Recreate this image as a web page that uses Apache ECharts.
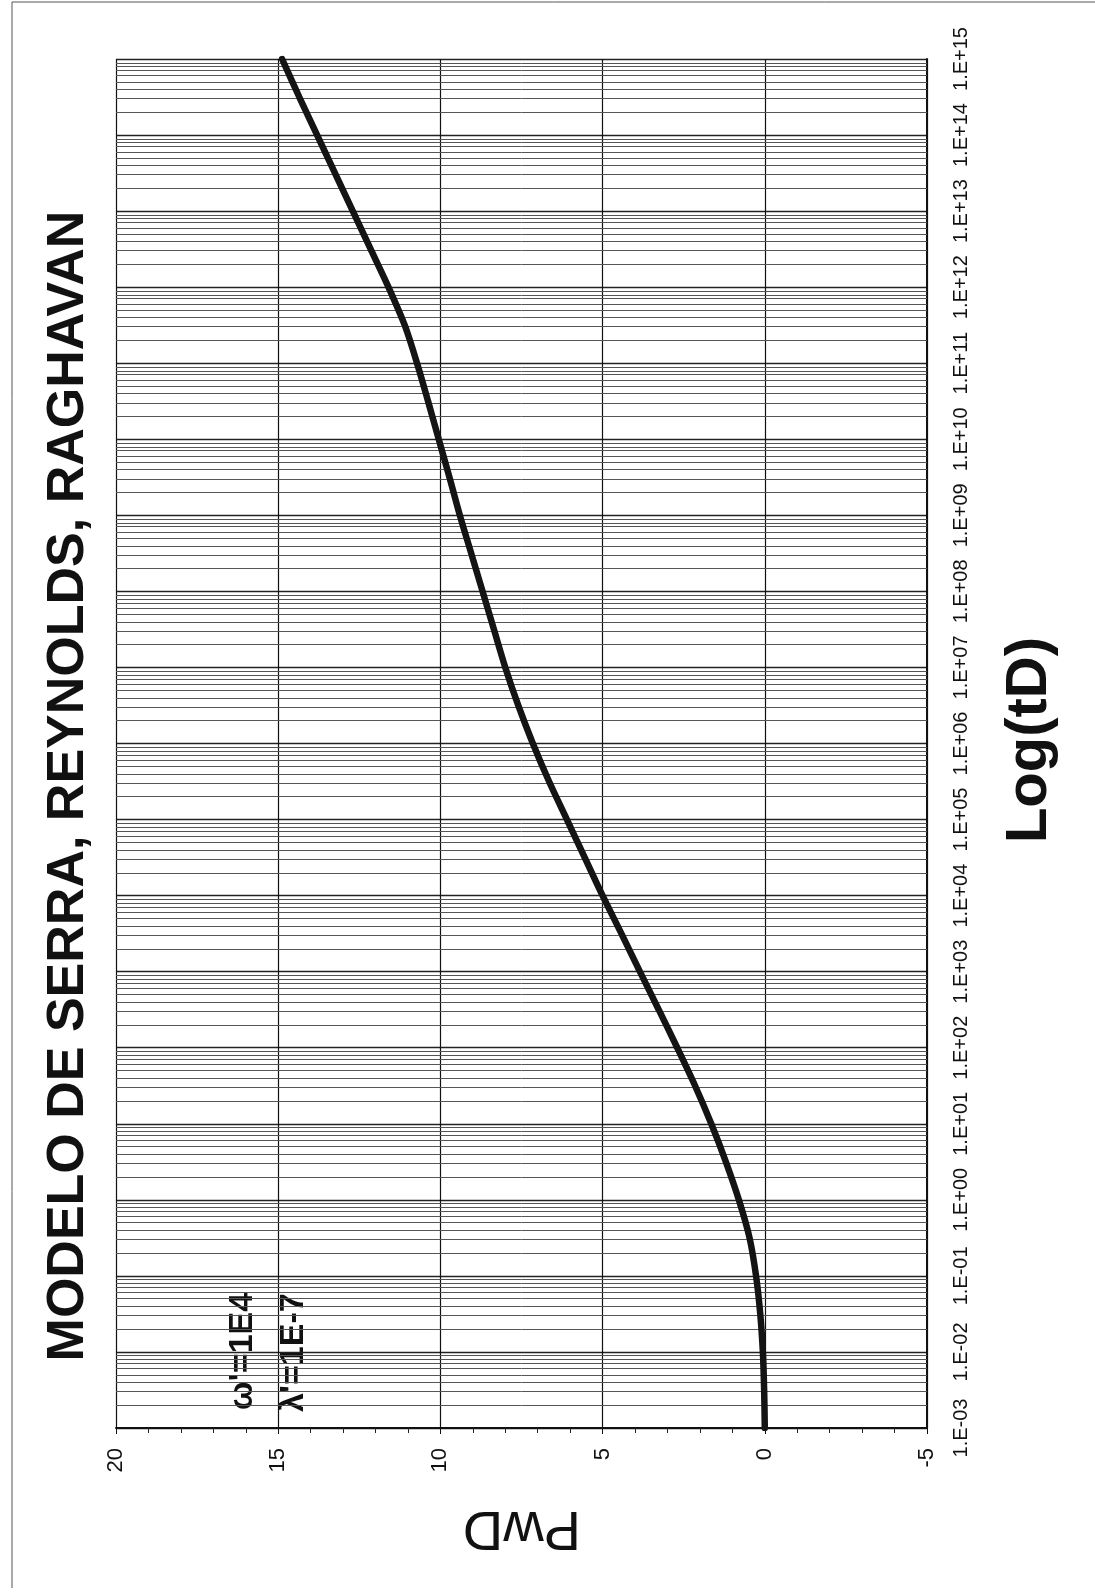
<!DOCTYPE html>
<html>
<head>
<meta charset="utf-8">
<script src="https://cdn.jsdelivr.net/npm/echarts@6/dist/echarts.min.js"></script>
<style>
  html, body { margin: 0; padding: 0; background: #fff; }
  #chart { width: 1095px; height: 1595px; }
</style>
</head>
<body>
<div id="chart"></div>
<script>
// Dimensionless pressure PwD against log10 of dimensionless time tD
const logTD = [-3, -2.5, -2, -1.5, -1, -0.5, 0, 0.5, 1, 1.5, 2, 2.5, 3, 3.5, 4, 4.5, 5, 5.5, 6,
               6.5, 7, 7.5, 8, 8.5, 9, 9.5, 10, 10.5, 11, 11.5, 12, 12.5, 13, 13.5, 14, 14.5, 15];
const pwd   = [0.0, 0.02, 0.06, 0.14, 0.27, 0.47, 0.8, 1.2, 1.65, 2.15, 2.7, 3.27, 3.85, 4.42, 5.0, 5.55, 6.1, 6.65, 7.15,
               7.6, 8.0, 8.35, 8.7, 9.05, 9.4, 9.72, 10.05, 10.38, 10.72, 11.1, 11.6, 12.15, 12.7, 13.25, 13.8, 14.35, 14.88];

// Log(tD) axis: decades 1E-03 .. 1E+15 with the 2..9 sub-divisions
const decadeMin = -3;
const decadeMax = 15;
const minorMantissas = [2, 3, 4, 5, 6, 7, 8, 9];

// PwD axis range
const pwdMin = -5;
const pwdMax = 20;
const pwdStep = 5;

const titleText = 'MODELO DE SERRA, REYNOLDS, RAGHAVAN';
const paramLines = ["\u03c9'=1E4", "\u03bb'=1E-7"];
const xName = 'PwD';
const yName = 'Log(tD)';

const FONT = '"Liberation Sans", Arial, sans-serif';

function decadeLabel(v) {
  const e = Math.round(v);
  return '1.E' + (e < 0 ? '-' : '+') + String(Math.abs(e)).padStart(2, '0');
}

const minorLines = [];
for (let k = decadeMin; k < decadeMax; k++) {
  minorMantissas.forEach(m => minorLines.push({ yAxis: k + Math.log10(m) }));
}

const curve = logTD.map((l, i) => [pwd[i], l]);

const chart = echarts.init(document.getElementById('chart'), null, { renderer: 'canvas' });

chart.setOption({
  backgroundColor: '#ffffff',
  animation: false,
  grid: { left: 116, right: 168, top: 59, bottom: 167, show: false },
  xAxis: {
    type: 'value',
    min: pwdMin,
    max: pwdMax,
    interval: pwdStep,
    inverse: true,
    position: 'bottom',
    axisLine: { show: true, onZero: false, lineStyle: { color: '#111', width: 2 } },
    axisTick: { show: true, length: 6, lineStyle: { color: '#111', width: 1 } },
    minorTick: { show: true, splitNumber: 5, length: 5, lineStyle: { color: '#222', width: 1 } },
    axisLabel: {
      rotate: 90, margin: 20, color: '#111',
      fontFamily: FONT, fontSize: 22
    },
    splitLine: { show: true, lineStyle: { color: '#111', width: 1.2 } }
  },
  yAxis: {
    type: 'value',
    min: decadeMin,
    max: decadeMax,
    interval: 1,
    position: 'right',
    axisLine: { show: true, onZero: false, lineStyle: { color: '#111', width: 2 } },
    axisTick: { show: false },
    axisLabel: {
      rotate: 90, margin: 24, color: '#111',
      fontFamily: FONT, fontSize: 20,
      formatter: decadeLabel
    },
    splitLine: { show: true, lineStyle: { color: '#222', width: 1.3 } }
  },
  series: [
    {
      // sub-decade grid of the log scale
      type: 'line',
      data: [],
      z: 1,
      silent: true,
      markLine: {
        silent: true,
        symbol: ['none', 'none'],
        label: { show: false },
        lineStyle: { color: '#555', width: 1, type: 'solid' },
        data: minorLines
      }
    },
    {
      type: 'line',
      data: curve,
      z: 5,
      smooth: 0.3,
      showSymbol: false,
      lineStyle: { color: '#141414', width: 6.5, cap: 'round' }
    }
  ],
  graphic: [
    { type: 'line', shape: { x1: 12, y1: 2, x2: 1095, y2: 2 }, style: { stroke: '#555', lineWidth: 1 } },
    { type: 'line', shape: { x1: 12, y1: 2, x2: 12, y2: 1588 }, style: { stroke: '#555', lineWidth: 1 } },
    {
      type: 'text', x: 69, y: 786, rotation: Math.PI / 2,
      style: { text: titleText, font: 'bold 52px ' + FONT, fill: '#111', textAlign: 'center', textVerticalAlign: 'middle' }
    },
    {
      type: 'text', x: 1030, y: 740, rotation: Math.PI / 2,
      style: { text: yName, font: 'bold 58px ' + FONT, fill: '#111', textAlign: 'center', textVerticalAlign: 'middle' }
    },
    {
      type: 'text', x: 522, y: 1527, rotation: Math.PI,
      style: { text: xName, font: '56px ' + FONT, fill: '#111', textAlign: 'center', textVerticalAlign: 'middle' }
    },
    {
      type: 'text', x: 243, y: 1410, rotation: Math.PI / 2,
      style: { text: paramLines[0], font: 'bold 34px ' + FONT, fill: '#111', textAlign: 'left', textVerticalAlign: 'middle' }
    },
    {
      type: 'text', x: 294, y: 1412, rotation: Math.PI / 2,
      style: { text: paramLines[1], font: 'bold 34px ' + FONT, fill: '#111', textAlign: 'left', textVerticalAlign: 'middle' }
    }
  ]
});
</script>
</body>
</html>
